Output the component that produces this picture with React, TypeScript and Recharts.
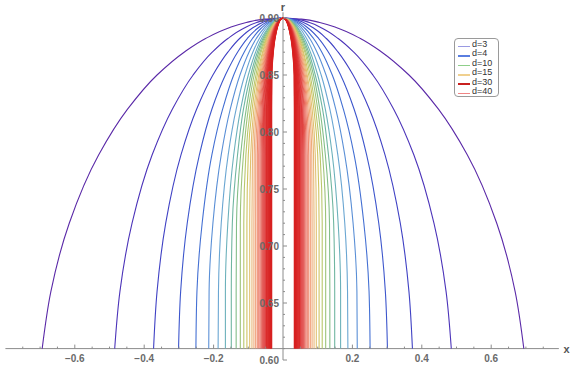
import React from 'react'
import { LineChart, Line, XAxis, YAxis, ReferenceLine, ReferenceDot } from 'recharts'

const rLevels = [0.61, 0.66, 0.72, 0.78, 0.82, 0.85, 0.87, 0.882, 0.891, 0.896, 0.899, 0.9]

const dValues = [3, 4, 5, 6, 7, 8, 9, 10, 11, 12, 13, 14, 15, 16, 17, 18, 19, 20, 21, 22, 23, 24, 25, 26, 27, 28, 29, 30, 31, 32, 33, 34, 35, 36, 37, 38, 39, 40]

// half-width |x| of each curve at the levels above (one row per d)
const halfWidths = [
  [0.694, 0.669, 0.616, 0.531, 0.448, 0.363, 0.285, 0.223, 0.159, 0.106, 0.053, 0],
  [0.485, 0.47, 0.435, 0.377, 0.319, 0.259, 0.204, 0.159, 0.113, 0.076, 0.038, 0],
  [0.373, 0.363, 0.338, 0.294, 0.249, 0.202, 0.159, 0.125, 0.089, 0.059, 0.03, 0],
  [0.301, 0.295, 0.276, 0.241, 0.205, 0.166, 0.131, 0.103, 0.073, 0.049, 0.025, 0],
  [0.251, 0.248, 0.233, 0.205, 0.174, 0.142, 0.112, 0.088, 0.063, 0.042, 0.021, 0],
  [0.214, 0.213, 0.202, 0.178, 0.152, 0.124, 0.098, 0.077, 0.055, 0.037, 0.018, 0],
  [0.187, 0.186, 0.178, 0.158, 0.135, 0.11, 0.087, 0.068, 0.049, 0.033, 0.016, 0],
  [0.166, 0.166, 0.159, 0.142, 0.122, 0.1, 0.079, 0.062, 0.044, 0.03, 0.015, 0],
  [0.149, 0.149, 0.146, 0.131, 0.114, 0.093, 0.074, 0.058, 0.042, 0.028, 0.014, 0],
  [0.135, 0.135, 0.134, 0.122, 0.106, 0.088, 0.07, 0.055, 0.039, 0.026, 0.013, 0],
  [0.123, 0.123, 0.123, 0.114, 0.1, 0.083, 0.066, 0.052, 0.037, 0.025, 0.0125, 0],
  [0.113, 0.113, 0.113, 0.107, 0.094, 0.078, 0.063, 0.049, 0.035, 0.024, 0.012, 0],
  [0.104, 0.104, 0.104, 0.1, 0.089, 0.074, 0.059, 0.047, 0.034, 0.023, 0.011, 0],
  [0.096, 0.096, 0.096, 0.093, 0.084, 0.07, 0.057, 0.045, 0.032, 0.022, 0.011, 0],
  [0.0895, 0.0895, 0.0895, 0.088, 0.0797, 0.0673, 0.0542, 0.0429, 0.0308, 0.0207, 0.0104, 0],
  [0.0838, 0.0838, 0.0838, 0.083, 0.0759, 0.0644, 0.052, 0.0412, 0.0297, 0.02, 0.01, 0],
  [0.0787, 0.0787, 0.0787, 0.0784, 0.0723, 0.0617, 0.05, 0.0397, 0.0286, 0.0192, 0.0097, 0],
  [0.0741, 0.0741, 0.0741, 0.074, 0.0691, 0.0593, 0.0482, 0.0383, 0.0276, 0.0186, 0.0094, 0],
  [0.0699, 0.0699, 0.0699, 0.0699, 0.066, 0.057, 0.0464, 0.037, 0.0267, 0.018, 0.0091, 0],
  [0.0662, 0.0662, 0.0662, 0.0662, 0.0632, 0.0548, 0.0448, 0.0357, 0.0258, 0.0174, 0.0087, 0],
  [0.0628, 0.0628, 0.0628, 0.0628, 0.0605, 0.0528, 0.0433, 0.0346, 0.025, 0.0169, 0.0085, 0],
  [0.0597, 0.0597, 0.0597, 0.0597, 0.0581, 0.051, 0.042, 0.0336, 0.0243, 0.0164, 0.0083, 0],
  [0.0569, 0.0569, 0.0569, 0.0569, 0.0558, 0.0493, 0.0406, 0.0326, 0.0236, 0.0159, 0.008, 0],
  [0.0543, 0.0543, 0.0543, 0.0543, 0.0535, 0.0477, 0.0394, 0.0317, 0.023, 0.0155, 0.0078, 0],
  [0.0519, 0.0519, 0.0519, 0.0519, 0.0514, 0.046, 0.0382, 0.0307, 0.0223, 0.0151, 0.0076, 0],
  [0.0497, 0.0497, 0.0497, 0.0497, 0.0494, 0.0447, 0.0372, 0.03, 0.0218, 0.0147, 0.0074, 0],
  [0.0477, 0.0477, 0.0477, 0.0477, 0.0476, 0.0433, 0.0362, 0.0292, 0.0212, 0.0144, 0.0073, 0],
  [0.0458, 0.0458, 0.0458, 0.0458, 0.0458, 0.042, 0.0352, 0.0285, 0.0207, 0.014, 0.0071, 0],
  [0.0441, 0.0441, 0.0441, 0.0441, 0.0441, 0.0407, 0.0343, 0.0277, 0.0202, 0.0137, 0.0069, 0],
  [0.0424, 0.0424, 0.0424, 0.0424, 0.0424, 0.0396, 0.0334, 0.0271, 0.0198, 0.0134, 0.0068, 0],
  [0.0409, 0.0409, 0.0409, 0.0409, 0.0409, 0.0384, 0.0326, 0.0264, 0.0193, 0.0131, 0.0066, 0],
  [0.0395, 0.0395, 0.0395, 0.0395, 0.0395, 0.0374, 0.0318, 0.0258, 0.0189, 0.0128, 0.0065, 0],
  [0.0381, 0.0381, 0.0381, 0.0381, 0.0381, 0.0364, 0.0311, 0.0254, 0.0186, 0.0126, 0.0064, 0],
  [0.0369, 0.0369, 0.0369, 0.0369, 0.0369, 0.0355, 0.0304, 0.0249, 0.0182, 0.0124, 0.0063, 0],
  [0.0357, 0.0357, 0.0357, 0.0357, 0.0357, 0.0344, 0.0296, 0.0242, 0.0178, 0.0121, 0.0061, 0],
  [0.0345, 0.0345, 0.0345, 0.0345, 0.0345, 0.0335, 0.0289, 0.0237, 0.0174, 0.0118, 0.006, 0],
  [0.0335, 0.0335, 0.0335, 0.0335, 0.0335, 0.0327, 0.0284, 0.0233, 0.0171, 0.0117, 0.0059, 0],
  [0.0325, 0.0325, 0.0325, 0.0325, 0.0325, 0.0318, 0.0278, 0.0228, 0.0168, 0.0114, 0.0058, 0],
]

const lineColors = [
  '#5b2aa8', '#4c34b9', '#4042c4', '#3d56cc', '#4470d3', '#5a8fd6', '#6aa6d2', '#6cb1bb',
  '#70b6a0', '#84be88', '#9ec47a', '#b8c76c', '#cfc462', '#e0c070', '#e9b677', '#eeaa78',
  '#f09b74', '#ee8b6f', '#ec7b68', '#e86b5e', '#e45c54', '#e24f4a', '#e04442', '#de3b3b',
  '#dd3535', '#dc3030', '#db2d2d', '#da2a2a', '#da2828', '#d92626', '#d92525', '#d92424',
  '#d82323', '#d82222', '#d82222', '#d72121', '#d72121', '#d72020',
]

const legendLabels = ['d=3', 'd=4', 'd=10', 'd=15', 'd=30', 'd=40']
const legendColors = ['#9a9ae2', '#5a7ee0', '#8fcf8a', '#f0d08f', '#c8201f', '#f08585']

const xTickValues = [-0.6, -0.4, -0.2, 0.2, 0.4, 0.6]
const xTickLabels = ['\u22120.6', '\u22120.4', '\u22120.2', '0.2', '0.4', '0.6']
const yTickValues = [0.6, 0.65, 0.7, 0.75, 0.8, 0.85, 0.9]
const yTickLabels = ['0.60', '0.65', '0.70', '0.75', '0.80', '0.85', '0.90']

const AXIS_Y = 0.61
const axisColor = '#8c8c8c'
const labelStyle = { fontFamily: 'Liberation Sans, Arial, sans-serif', fontSize: 10, fontWeight: 700, fill: '#6a6a6a' }

const xMinor: number[] = []
for (let i = -15; i <= 15; i++) {
  if (i % 4 !== 0) xMinor.push(Math.round(i * 5) / 100)
}
const yMinor: number[] = []
for (let i = 60; i <= 90; i++) {
  if (i % 5 !== 0) yMinor.push(i / 100)
}

function halves(row: number[]) {
  const left = rLevels.map((r, i) => ({ x: -row[i], r }))
  const right = rLevels.map((r, i) => ({ x: row[i], r }))
  return [left, right]
}

function Legend() {
  return (
    <div
      style={{
        position: 'absolute',
        left: 454,
        top: 38,
        width: 45,
        height: 59,
        padding: '1px 0 0 3px',
        border: '1px solid #9a9a9a',
        borderRadius: 4,
        background: '#fff',
        fontFamily: 'Liberation Sans, Arial, sans-serif',
        fontSize: 9,
        lineHeight: '9.4px',
        color: '#333',
        boxSizing: 'border-box',
        overflow: 'hidden',
      }}
    >
      {legendLabels.map((l, i) => (
        <div key={l} style={{ display: 'flex', alignItems: 'center', height: 9.4, overflow: 'hidden' }}>
          <span style={{ display: 'inline-block', width: 12, height: 1.6, background: legendColors[i], marginRight: 2, marginTop: 4 }} />
          <span style={{ fontSize: 9, lineHeight: '9.4px' }}>{l}</span>
        </div>
      ))}
    </div>
  )
}

export default function App() {
  return (
    <div style={{ position: 'absolute', left: 0, top: 0, width: 571, height: 369, background: '#fff' }}>
      <LineChart width={571} height={369} margin={{ top: 6.6, right: 10.4, left: 5.4, bottom: 3.3 }}>
        <XAxis type="number" dataKey="x" domain={[-0.8, 0.8]} hide allowDataOverflow />
        <YAxis type="number" dataKey="r" domain={[0.595, 0.91]} hide allowDataOverflow />

        <ReferenceLine segment={[{ x: -0.8, y: AXIS_Y }, { x: 0.795, y: AXIS_Y }]} stroke={axisColor} strokeWidth={1} />
        <ReferenceLine segment={[{ x: 0, y: 0.6 }, { x: 0, y: 0.905 }]} stroke={axisColor} strokeWidth={1} />

        {dValues.map((d, k) =>
          halves(halfWidths[k]).map((pts, h) => (
            <Line
              key={`${d}-${h}`}
              data={pts}
              dataKey="r"
              type="monotoneY"
              stroke={lineColors[k]}
              strokeWidth={1.1}
              dot={false}
              activeDot={false}
              isAnimationActive={false}
            />
          ))
        )}

        {xMinor.map((v) => (
          <ReferenceDot key={`xm${v}`} x={v} y={AXIS_Y} r={0}
            shape={(p: any) => <line x1={p.cx} x2={p.cx} y1={p.cy} y2={p.cy - 2} stroke={axisColor} />} />
        ))}
        {xTickValues.map((v, i) => (
          <ReferenceDot key={`xt${v}`} x={v} y={AXIS_Y} r={0}
            shape={(p: any) => (
              <g>
                <line x1={p.cx} x2={p.cx} y1={p.cy} y2={p.cy - 4} stroke={axisColor} />
                <text x={p.cx} y={p.cy + 13} textAnchor="middle" style={labelStyle}>{xTickLabels[i]}</text>
              </g>
            )} />
        ))}
        {yMinor.map((v) => (
          <ReferenceDot key={`ym${v}`} x={0} y={v} r={0}
            shape={(p: any) => <line x1={p.cx} x2={p.cx + 2} y1={p.cy} y2={p.cy} stroke={axisColor} />} />
        ))}
        {yTickValues.map((v, i) => (
          <ReferenceDot key={`yt${v}`} x={0} y={v} r={0}
            shape={(p: any) => (
              <g>
                <line x1={p.cx} x2={p.cx + 4} y1={p.cy} y2={p.cy} stroke={axisColor} />
                <text x={p.cx - 4} y={p.cy + 4} textAnchor="end" style={labelStyle}>{yTickLabels[i]}</text>
              </g>
            )} />
        ))}
        <ReferenceDot x={0} y={0.905} r={0}
          shape={(p: any) => <text x={p.cx} y={p.cy - 1} textAnchor="middle" style={{ ...labelStyle, fontSize: 11, fill: '#555' }}>r</text>} />
        <ReferenceDot x={0.8} y={AXIS_Y} r={0}
          shape={(p: any) => <text x={p.cx + 3} y={p.cy + 4} textAnchor="start" style={{ ...labelStyle, fontSize: 11, fill: '#555' }}>x</text>} />
      </LineChart>
      <Legend />
    </div>
  )
}
